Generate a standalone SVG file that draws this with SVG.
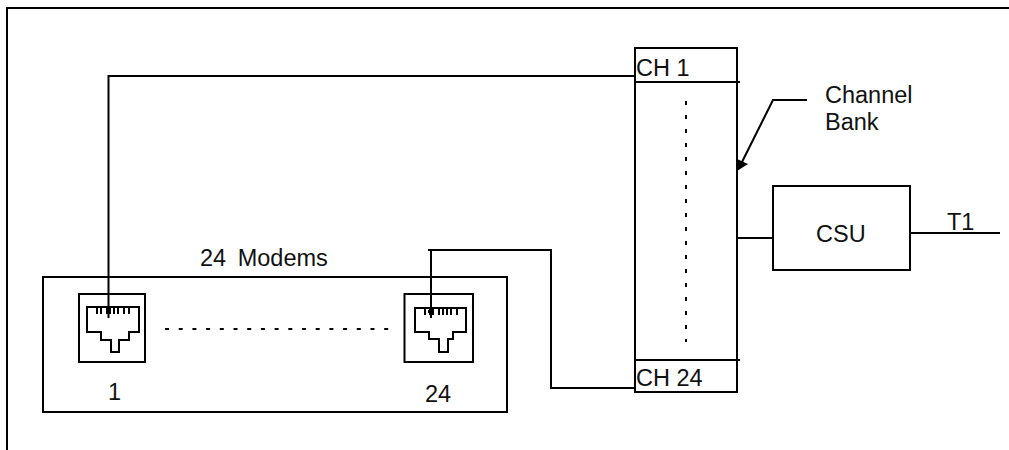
<svg xmlns="http://www.w3.org/2000/svg" width="1009" height="450" viewBox="0 0 1009 450">
<defs><g id="jack"><path class="l" d="M-26 -1H40V67H-26Z"/><path class="l" d="M-18 12H34V37H24V45H14V57H6V45H-4V37H-18Z"/><path class="l" d="M-8 12V19M-4 12V19M2 12V19M5 12V19M9 12V19M13 12V19M19 12V19M24 12V19"/></g></defs>
<style>
.l{fill:none;stroke:#000;stroke-width:2}
.d{fill:none;stroke:#000;stroke-width:2}
text{font-family:"Liberation Sans",Arial,sans-serif;font-size:23.500px;fill:#111}
</style>
<rect width="1009" height="450" fill="#fff"/>
<path class="l" d="M7 450V8H1009"/>
<g id="modems">
<rect class="l" x="43" y="277" width="464" height="135"/>
<text x="200" y="266" word-spacing="5">24 Modems</text>
<path class="d" d="M165 329H390" stroke-dasharray="4 9.700"/>
</g>
<g id="jack1"><use href="#jack" x="105" y="295"/><text x="108" y="400">1</text></g>
<g id="jack24">
<path class="l" d="M404.500 294H473V362H404.500Z"/>
<path class="l" d="M415 308H466V332H453V339H448V352H439V339H429V332H415Z"/>
<path class="l" d="M425 308V315M430 308V315M433 308V315M439 308V315M443 308V315M447 308V315M451 308V315M457 308V315"/>
<text x="425" y="402">24</text>
</g>
<g id="channel-bank">
<rect class="l" x="635" y="48" width="102" height="344"/>
<path class="l" d="M635 82H740M635 360H740"/>
<text x="636" y="76">CH 1</text>
<text x="636" y="386">CH 24</text>
<path class="d" d="M686 101V342" stroke-dasharray="4 10"/>
</g>
<g id="channel-bank-label">
<text x="825" y="103">Channel</text>
<text x="825" y="130">Bank</text>
</g>
<g id="csu">
<rect class="l" x="773" y="186" width="137" height="84"/>
<text x="816" y="242">CSU</text>
</g>
<text id="t1" x="947" y="230">T1</text>
<g id="connectors">
<path class="l" d="M108.500 318V76H635"/>
<path class="l" d="M431 318V250H428M431 250H551V388H635"/>
<path class="l" d="M738 238H773"/>
<path class="l" d="M910 233H1000"/>
<path class="l" d="M807 100H773L742 162"/>
<path d="M737 159L748 164L737 171Z" fill="#000"/>
<path d="M106 310H111V313H106ZM428 310H433V313H428Z" fill="#000"/>
</g>
</svg>
